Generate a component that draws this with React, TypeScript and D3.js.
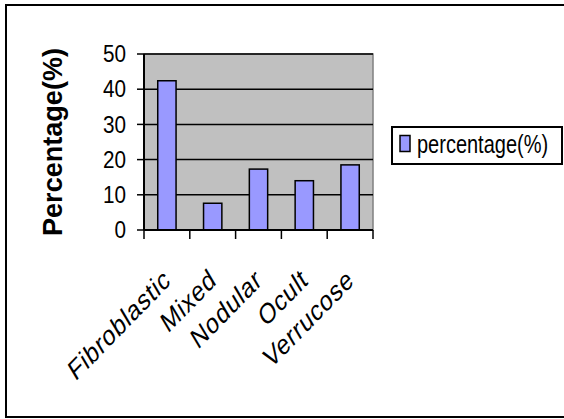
import * as d3 from 'd3'

const categories = ['Fibroblastic', 'Mixed', 'Nodular', 'Ocult', 'Verrucose']
const percentages = [42.4, 7.6, 17.3, 14.0, 18.5]
const yTicks = [0, 10, 20, 30, 40, 50]
const seriesName = 'percentage(%)'
const yTitle = 'Percentage(%)'

const W = 564
const H = 419
const plot = { left: 144, right: 373, top: 54, bottom: 230 }
const font = '"Liberation Sans", Arial, sans-serif'

const App = () => {
  const x = d3.scaleBand()
    .domain(categories)
    .range([plot.left, plot.right])
    .paddingInner(0.6)
    .paddingOuter(0.3)

  const y = d3.scaleLinear()
    .domain([0, 50])
    .range([plot.bottom, plot.top])

  const step = x.step()
  // tick marks sit between categories, like Excel
  const xTickPos = d3.range(categories.length + 1).map(i => plot.left + i * step)

  return (
    <svg width={W} height={H} style={{ position: 'absolute', left: 0, top: 0 }} fontFamily={font}>
      <rect x={0} y={0} width={W} height={H} fill="#fff" />
      {/* chart border */}
      <rect x={6} y={5} width={W + 10} height={412} fill="none" stroke="#000" strokeWidth={2} />

      {/* plot area */}
      <rect x={plot.left} y={plot.top} width={plot.right - plot.left} height={plot.bottom - plot.top}
        fill="#c0c0c0" stroke="#808080" strokeWidth={1.5} />

      {yTicks.filter(t => t > 0).map(t => (
        <line key={t} x1={plot.left} x2={plot.right} y1={y(t)} y2={y(t)} stroke="#000" strokeWidth={1.5} />
      ))}

      {categories.map((c, i) => (
        <rect key={c} x={x(c)} y={y(percentages[i])} width={x.bandwidth()}
          height={y(0) - y(percentages[i])} fill="#9999ff" stroke="#000" strokeWidth={1.5} />
      ))}

      {/* y axis */}
      <line x1={plot.left} x2={plot.left} y1={plot.top} y2={plot.bottom} stroke="#000" strokeWidth={2} />
      {yTicks.map(t => (
        <g key={t} transform={`translate(0, ${y(t)})`}>
          <line x1={plot.left - 7} x2={plot.left} stroke="#000" strokeWidth={1.5} />
          <text transform={`translate(126, 0) scale(0.9, 1)`} textAnchor="end" dy="0.36em" fontSize={23}>
            {t}
          </text>
        </g>
      ))}

      {/* x axis */}
      <line x1={plot.left} x2={plot.right} y1={plot.bottom} y2={plot.bottom} stroke="#000" strokeWidth={2} />
      {xTickPos.map((p, i) => (
        <line key={i} x1={p} x2={p} y1={plot.bottom} y2={plot.bottom + 9} stroke="#000" strokeWidth={1.5} />
      ))}
      {categories.map(c => (
        <text key={c} textAnchor="end" fontSize={27} letterSpacing={0.8}
          transform={`translate(${(x(c) ?? 0) + x.bandwidth() / 2 + 5}, 283) scale(0.88, 1) rotate(-42) skewX(-8)`}>
          {c}
        </text>
      ))}

      {/* y title */}
      <text transform={`translate(62, ${(plot.top + plot.bottom) / 2}) rotate(-90)`} textAnchor="middle"
        fontSize={27} fontWeight="bold" textLength={188} lengthAdjust="spacingAndGlyphs">
        {yTitle}
      </text>

      {/* legend */}
      <rect x={392} y={127} width={170} height={37} fill="#fff" stroke="#000" strokeWidth={2} />
      <rect x={400} y={135.5} width={10} height={16} fill="#9999ff" stroke="#000" strokeWidth={1.5} />
      <text transform="translate(417, 153) scale(0.8, 1)" fontSize={25}>
        {seriesName}
      </text>
    </svg>
  )
}

export default App
